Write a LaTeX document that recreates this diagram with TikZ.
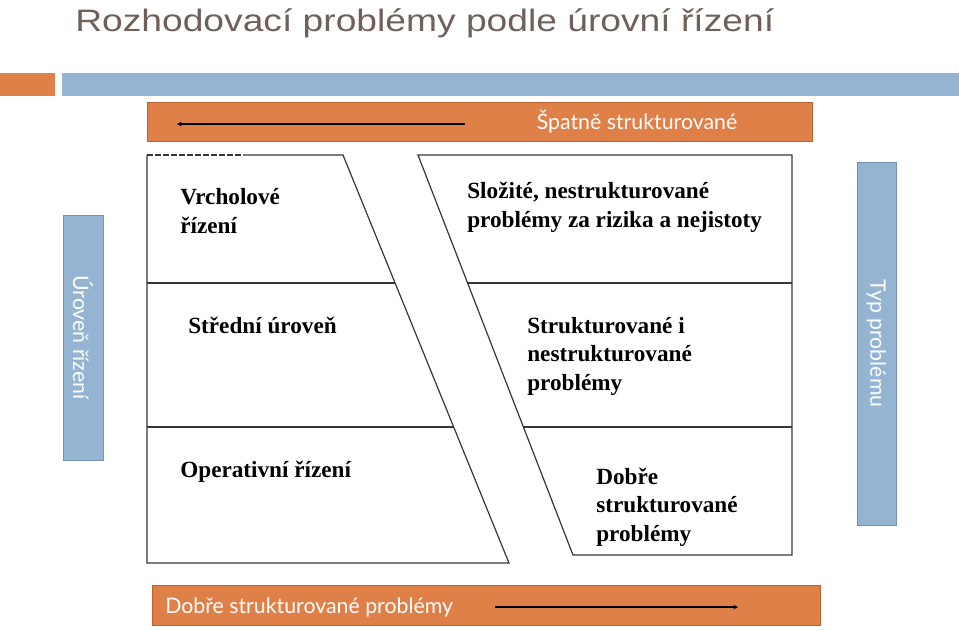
\documentclass[tikz,border=0pt]{standalone}
\usepackage{fontspec}
\setmainfont{Liberation Serif}
\newfontfamily\titlefont[FakeStretch=1.2]{Liberation Sans}
\newfontfamily\barfont{Lato}
\usepackage{tikz}
\usetikzlibrary{positioning}
\usetikzlibrary{arrows}
\definecolor{barorange}{RGB}{224,128,73}
\definecolor{orangeline}{RGB}{184,100,50}
\definecolor{barblue}{RGB}{148,180,210}
\definecolor{blueline}{RGB}{118,146,174}
\definecolor{titlegray}{RGB}{112,96,90}
\definecolor{boxline}{RGB}{55,55,55}

\begin{document}
\begin{tikzpicture}[
            x = 1pt, y = -1pt, % pixel units
            > = stealth, % arrow head style
            semithick % line style
        ]

        \tikzstyle{orangebar}=[fill = barorange, draw = orangeline, line width = 1pt, inner sep = 0pt]
        \tikzstyle{bluebar}=[fill = barblue, draw = blueline, line width = 1pt, inner sep = 0pt]
        \tikzstyle{bartext}=[text = white, font = \barfont\fontsize{21.3}{24}\selectfont, inner sep = 0pt]
        \tikzstyle{boxtext}=[font = \bfseries\fontsize{23.2}{28.5}\selectfont, align = left, inner sep = 0pt, anchor = base west]
        \tikzstyle{boxline}=[draw = boxline, line width = 1.2pt]
        \tikzstyle{bararrow}=[->, black, line width = 1.1pt]

        \useasboundingbox (0,0) rectangle (959,630);

        % title
        \node[text = titlegray, font = \titlefont\fontsize{31}{34}\selectfont, anchor = base west, inner sep = 0pt] (title) at (75,31) {Rozhodovací problémy podle úrovní řízení};

        % header strips
        \fill[barorange] (0,73) rectangle (55,96);
        \fill[barblue] (62,73) rectangle (959,96);

        % top bar
        \node[orangebar, minimum width = 665pt, minimum height = 39pt] (spatne) at (479.5,121.5) {};
        \node[bartext] (spatneT) at (637,122) {Špatně strukturované};
        \coordinate (topR) at (465,124);
        \coordinate (topL) at (177,124);
        \draw[bararrow] (topR) -- (topL);

        % bottom bar
        \node[orangebar, minimum width = 668pt, minimum height = 40pt] (dobre) at (486,605) {};
        \node[bartext, anchor = base west] (dobreT) at (165,613) {Dobře strukturované problémy};
        \coordinate (botL) at (495,607);
        \coordinate (botR) at (738,607);
        \draw[bararrow] (botL) -- (botR);

        % side bars
        \node[bluebar, minimum width = 40pt, minimum height = 245pt] (uroven) at (83,337.5) {};
        \node[bartext, rotate = -90] (urovenT) at (uroven) {Úroveň řízení};
        \node[bluebar, minimum width = 39pt, minimum height = 363pt] (typ) at (876.5,343.5) {};
        \node[bartext, rotate = -90] (typT) at (typ) {Typ problému};

        % levels of management
        \coordinate (L1) at (147,155);
        \coordinate (Ld) at (243,155);
        \coordinate (L2) at (343,155);
        \coordinate (L3) at (509,563);
        \coordinate (L4) at (147,563);
        \draw[boxline, dash pattern = on 6pt off 2pt] (L1) -- (Ld);
        \draw[boxline] (Ld) -- (L2) -- (L3) -- (L4) -- (L1);
        \draw[boxline] (147,283) -- (395,283);
        \draw[boxline] (147,427) -- (454,427);

        % types of problems
        \coordinate (R1) at (418,155);
        \coordinate (R2) at (792,155);
        \coordinate (R3) at (792,555);
        \coordinate (R4) at (573,555);
        \draw[boxline] (R1) -- (R2) -- (R3) -- (R4) -- cycle;
        \draw[boxline] (468,283) -- (R2 |- 0,283);
        \draw[boxline] (523,427) -- (R2 |- 0,427);

        % base is on the last line
        \node[boxtext] (vrchol) at (180,233) {Vrcholové\\řízení};
        \node[boxtext] (stred) at (188,333) {Střední úroveň};
        \node[boxtext] (oper) at (180,477) {Operativní řízení};

        \node[boxtext] (slozite) at (467,227) {Složité, nestrukturované\\problémy za rizika a nejistoty};
        \node[boxtext] (strukt) at (527,390) {Strukturované i\\nestrukturované\\problémy};
        \node[boxtext] (dobreS) at (596,541) {Dobře\\strukturované\\problémy};

\end{tikzpicture}
\end{document}
